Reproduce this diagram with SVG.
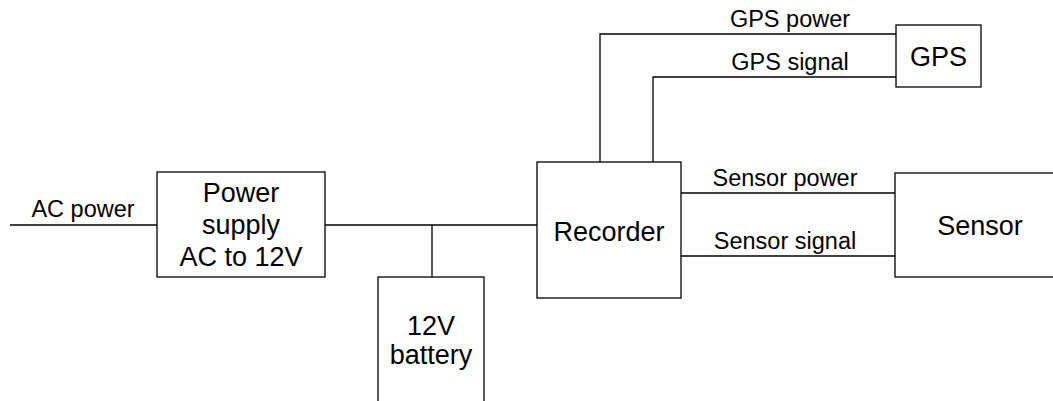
<svg xmlns="http://www.w3.org/2000/svg" width="1053" height="401" viewBox="0 0 1053 401">
<style>
.box{fill:#fff;stroke:#000;stroke-width:1.3}
.wire{fill:none;stroke:#000;stroke-width:1.3}
.t{font-family:"Liberation Sans",Arial,sans-serif;font-size:27px;fill:#000;text-anchor:middle}
.l{font-family:"Liberation Sans",Arial,sans-serif;font-size:23.5px;fill:#000;text-anchor:middle}
</style>
<rect width="1053" height="401" fill="#fff"/>
<g id="connectors">
<path class="wire" d="M10,225H157"/>
<path class="wire" d="M325,225H537"/>
<path class="wire" d="M432,225V277"/>
<path class="wire" d="M600,162V34H896"/>
<path class="wire" d="M653,162V77H896"/>
<path class="wire" d="M681,193H895"/>
<path class="wire" d="M681,256H895"/>
<text class="l" x="83" y="217">AC power</text>
<text class="l" x="790" y="27">GPS power</text>
<text class="l" x="790" y="70">GPS signal</text>
<text class="l" x="785" y="186">Sensor power</text>
<text class="l" x="785" y="249">Sensor signal</text>
</g>
<g id="power-supply">
<rect class="box" x="157" y="172" width="168" height="105"/>
<text class="t" x="241" y="202">Power</text>
<text class="t" x="241" y="234">supply</text>
<text class="t" x="241" y="266">AC to 12V</text>
</g>
<g id="battery">
<rect class="box" x="378" y="277" width="106" height="140"/>
<text class="t" x="431" y="335">12V</text>
<text class="t" x="431" y="364">battery</text>
</g>
<g id="recorder">
<rect class="box" x="537" y="162" width="144" height="136"/>
<text class="t" x="609" y="241">Recorder</text>
</g>
<g id="gps">
<rect class="box" x="896" y="25" width="85" height="62"/>
<text class="t" x="938.5" y="66">GPS</text>
</g>
<g id="sensor">
<rect class="box" x="895" y="173" width="170" height="104"/>
<text class="t" x="980" y="235">Sensor</text>
</g>
</svg>
